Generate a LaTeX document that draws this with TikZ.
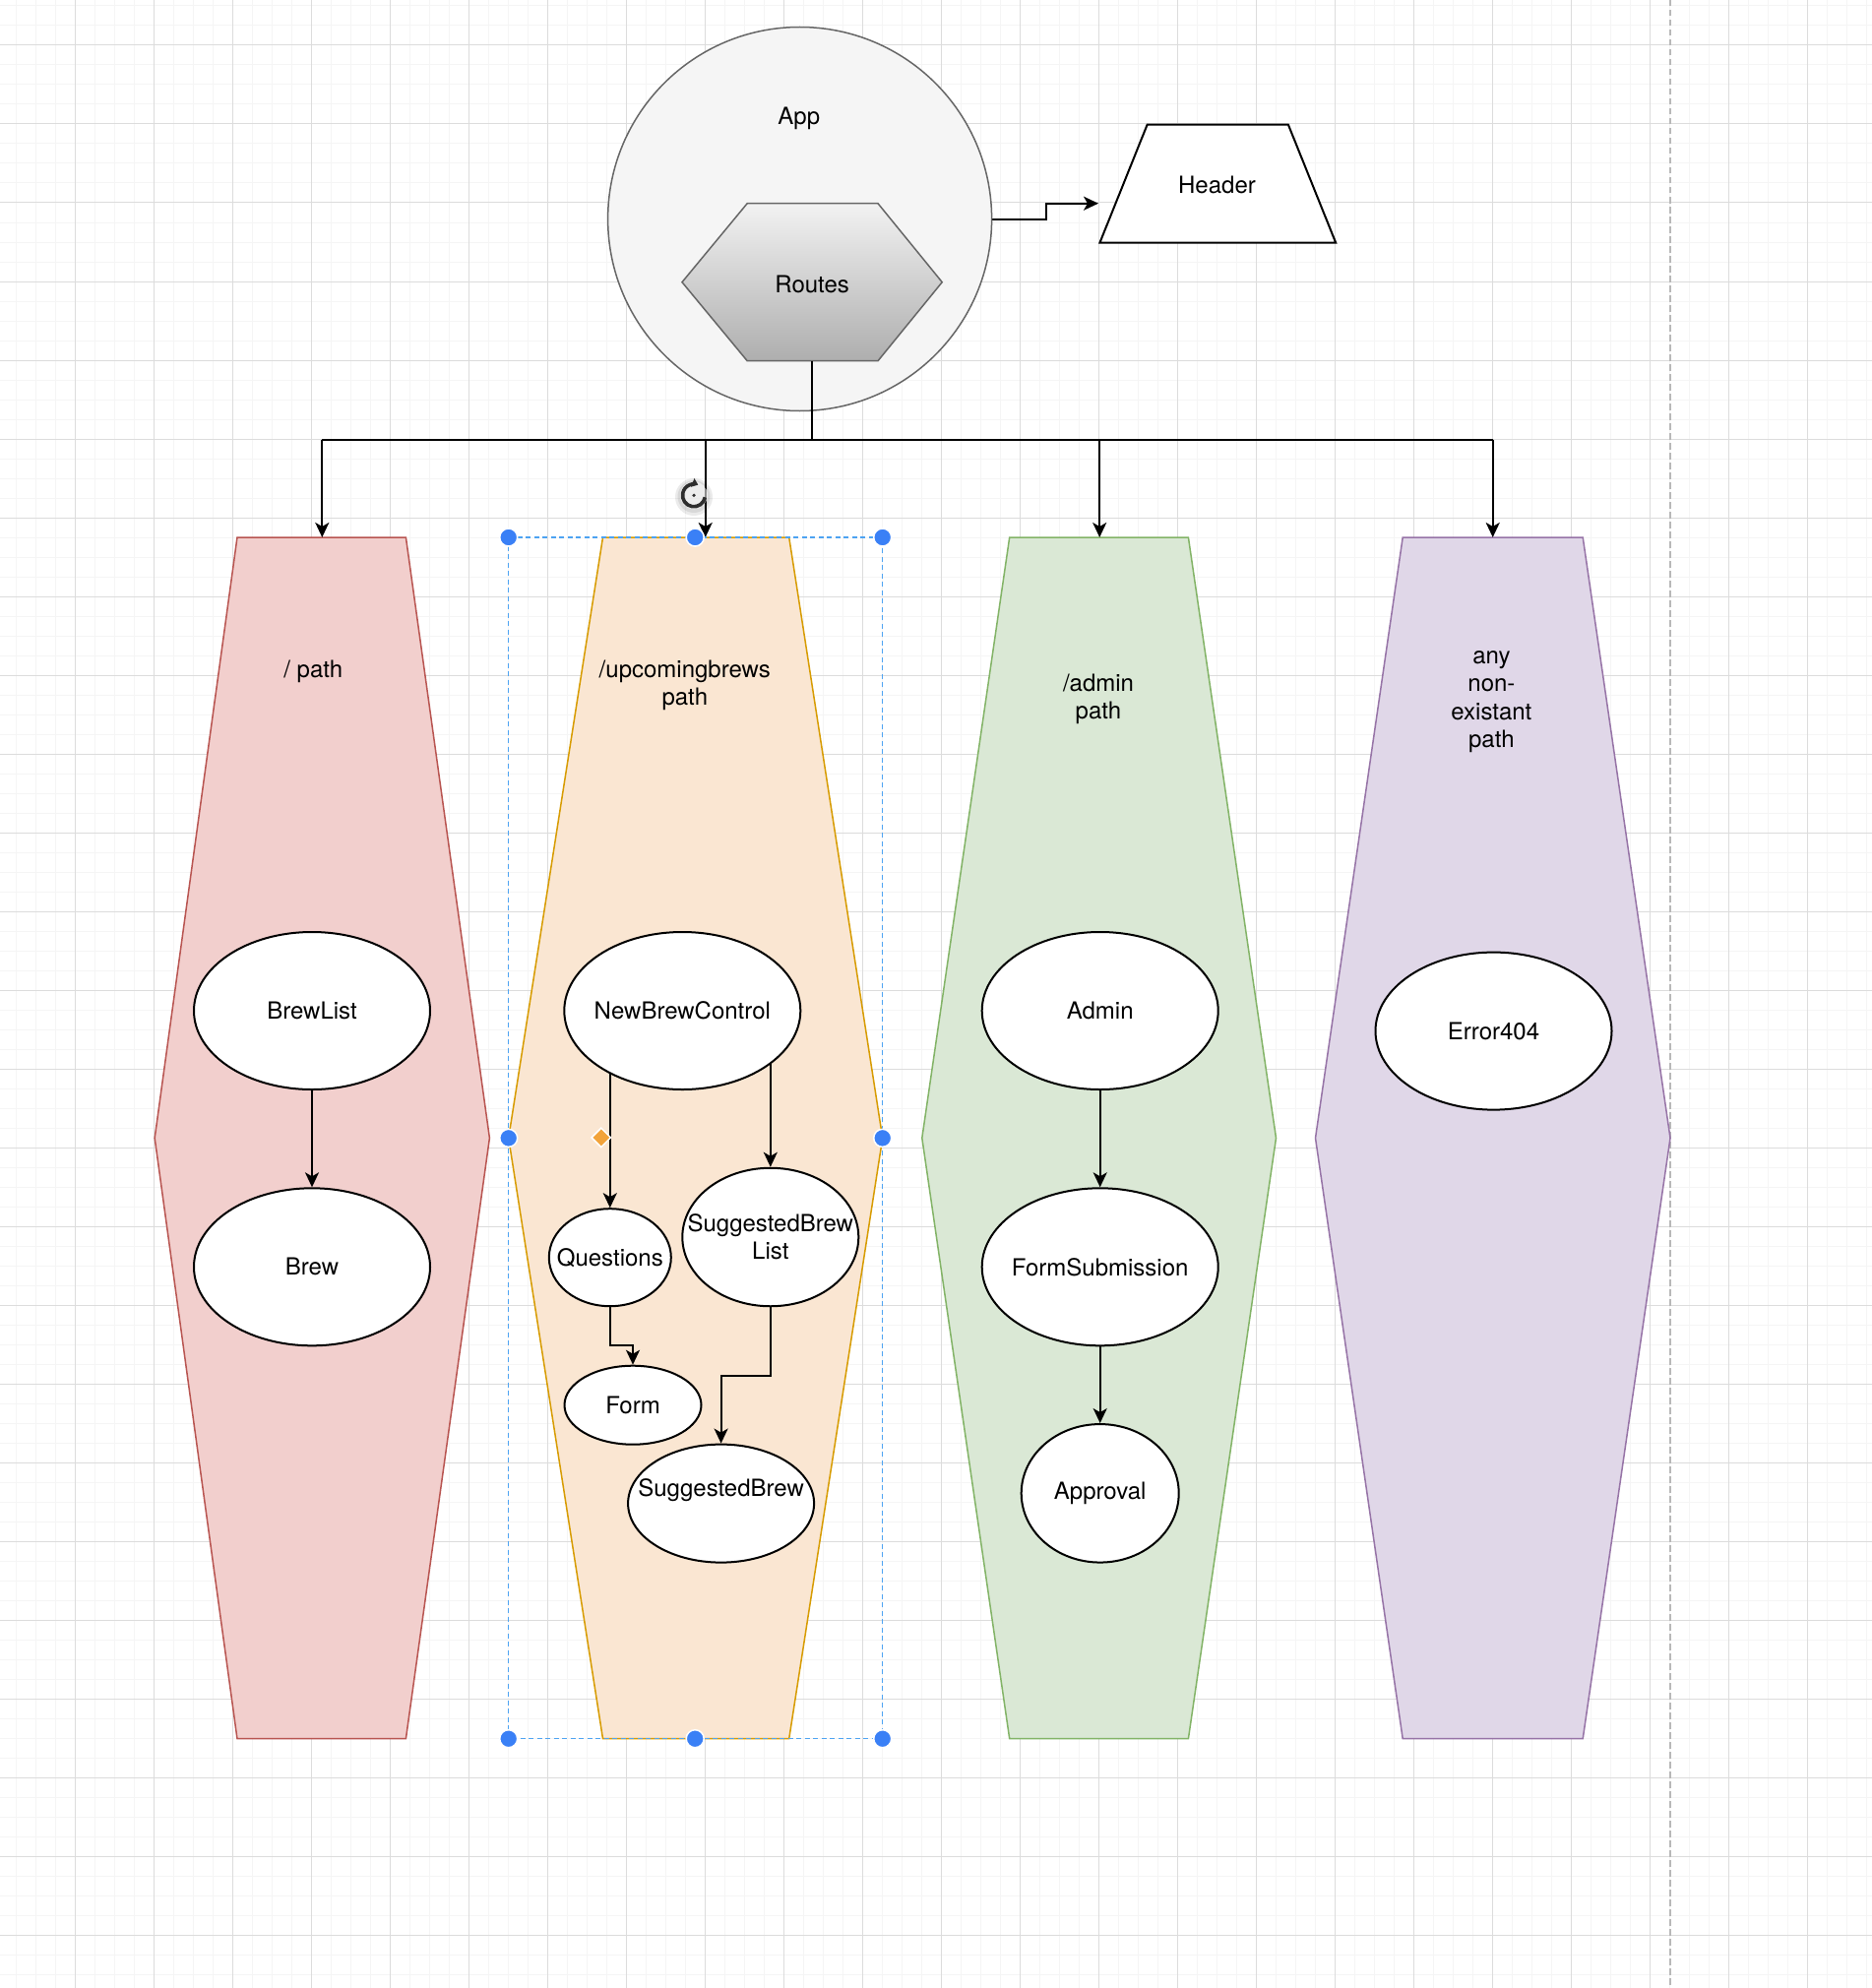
\documentclass[tikz,border=0pt]{standalone}
\usepackage{fontspec}
\setmainfont{TeX Gyre Heros}
\usetikzlibrary{shapes.geometric,arrows.meta}
\pgfdeclarelayer{bg}
\pgfdeclarelayer{hexl}
\pgfdeclarelayer{edges}
\pgfdeclarelayer{top}
\pgfsetlayers{bg,hexl,edges,main,top}
\definecolor{gridMinor}{HTML}{F5F5F5}
\definecolor{gridMajor}{HTML}{DCDCDC}
\definecolor{pageLine}{HTML}{B8B8B8}
\definecolor{redF}{HTML}{F2CFCD}
\definecolor{redS}{HTML}{B85450}
\definecolor{orgF}{HTML}{FAE6D2}
\definecolor{orgS}{HTML}{D79B00}
\definecolor{grnF}{HTML}{DAE8D5}
\definecolor{grnS}{HTML}{82B366}
\definecolor{purF}{HTML}{E0D7E8}
\definecolor{purS}{HTML}{9673A6}
\definecolor{appF}{HTML}{F5F5F5}
\definecolor{appS}{HTML}{666666}
\definecolor{routeTop}{HTML}{F2F2F2}
\definecolor{routeBot}{HTML}{AEAEAE}
\definecolor{selBlue}{HTML}{4DA3F2}
\definecolor{handleBlue}{HTML}{3A80F6}
\definecolor{diaOrange}{HTML}{F2A33A}
\definecolor{rotGray}{HTML}{2E2E2E}
\tikzset{
  lbl/.style={font=\fontsize{24pt}{28.4pt}\selectfont, align=center, inner sep=0pt},
  comp/.style={ellipse, draw=black, line width=2pt, fill=white, inner sep=0pt},
  wire/.style={draw=black, line width=2pt},
  conn/.style={wire, -{Stealth[length=15pt,width=14pt,inset=4pt]}},
  gridminor/.style={draw=gridMinor, line width=1pt},
  gridmajor/.style={draw=gridMajor, line width=1pt},
  hexshape/.style={line width=1.5pt},
  handle/.style={circle, fill=handleBlue, draw=white, line width=1.5pt, minimum size=18pt, inner sep=0pt},
}
\begin{document}
\begin{tikzpicture}[x=1pt,y=-1pt]
\useasboundingbox (0,0) rectangle (1902,2020);
% ---------- background grid ----------
\begin{pgfonlayer}{bg}
\fill[white] (0,0) rectangle (1902,2020);
\foreach \i in {0,...,94} \draw[gridminor] ({16.7+20*\i},0) -- ({16.7+20*\i},2020);
\foreach \j in {0,...,100} \draw[gridminor] (0,{6+20*\j}) -- (1902,{6+20*\j});
\foreach \i in {0,...,22} \draw[gridmajor] ({76.7+80*\i},0) -- ({76.7+80*\i},2020);
\foreach \j in {0,...,24} \draw[gridmajor] (0,{46+80*\j}) -- (1902,{46+80*\j});
\draw[draw=pageLine, line width=1.8pt, dash pattern=on 6.5pt off 3.5pt] (1696.7,0) -- (1696.7,2020);
\end{pgfonlayer}
% ---------- route hexagons ----------
\begin{pgfonlayer}{hexl}
\draw[hexshape, fill=redF, draw=redS] (241,546) -- (412.4,546) -- (497.4,1156.35) -- (412.4,1766.7) -- (241,1766.7) -- (157.2,1156.35) -- cycle;
\draw[hexshape, fill=orgF, draw=orgS] (612.5,546) -- (801.7,546) -- (896.7,1156.35) -- (801.7,1766.7) -- (612.5,1766.7) -- (516.7,1156.35) -- cycle;
\draw[hexshape, fill=grnF, draw=grnS] (1025.7,546) -- (1207.4,546) -- (1296.5,1156.35) -- (1207.4,1766.7) -- (1025.7,1766.7) -- (936.8,1156.35) -- cycle;
\draw[hexshape, fill=purF, draw=purS] (1425.2,546) -- (1608.2,546) -- (1697,1156.35) -- (1608.2,1766.7) -- (1425.2,1766.7) -- (1336.5,1156.35) -- cycle;
\end{pgfonlayer}
\node[lbl] (p1) at (318.3,682.5) {/ path};
\node[lbl] (p2) at (695.8,696.2) {/upcomingbrews\\path};
\node[lbl] (p3) at (1116,710.5) {/admin\\path};
\node[lbl] (p4) at (1515.4,713.2) {any\\non-\\existant\\path};
\coordinate (h1top) at (327.3,546);
\coordinate (h2top) at (716.7,546);
\coordinate (h3top) at (1117.2,546);
\coordinate (h4top) at (1516.7,546);
% ---------- App / Routes / Header ----------
\node[circle, minimum size=390pt, inner sep=0pt, fill=appF, draw=appS, line width=1.5pt] (app) at (812.6,222.5) {};
\node[lbl] (applbl) at (811.8,120.8) {App};
\path[draw=appS, line width=1.5pt, top color=routeTop, bottom color=routeBot]
  (759.2,206.7) -- (892,206.7) -- (957.2,286.7) -- (892,366.7) -- (759.2,366.7) -- (693,286.7) -- cycle;
\node[lbl] (routes) at (825.1,288.5) {Routes};
\coordinate (routesBot) at (825.1,366.7);
\draw[line width=2pt, fill=white] (1165.6,126.7) -- (1308.9,126.7) -- (1357.2,246.7) -- (1117.4,246.7) -- cycle;
\node[lbl] (header) at (1236.5,187.5) {Header};
\coordinate (headerIn) at (1116,206.7);
% bus from Routes
\coordinate (busL) at (327.3,446.7);
\coordinate (busR) at (1516.7,446.7);
\draw[wire] (routesBot) -- (routesBot |- busL);
\draw[wire] (busL) -- (busR);
\draw[conn] (busL) -- (h1top);
\draw[conn] (h2top |- busL) -- (h2top);
\draw[conn] (h3top |- busL) -- (h3top);
\draw[conn] (busR) -- (h4top);
% ---------- components ----------
\node[comp, minimum width=240pt, minimum height=160pt, label={[lbl]center:BrewList}] (brewlist) at (317,1027) {};
\node[comp, minimum width=240pt, minimum height=160pt, label={[lbl]center:Brew}] (brew) at (317,1287.3) {};
\node[comp, minimum width=240pt, minimum height=160pt, label={[lbl]center:NewBrewControl}] (nbc) at (693.3,1027) {};
\node[comp, minimum width=124pt, minimum height=99pt, label={[lbl]center:Questions}] (q) at (619.8,1277.7) {};
\node[comp, minimum width=179pt, minimum height=140.5pt, label={[lbl]center:SuggestedBrew\\List}] (sbl) at (782.8,1257) {};
\node[comp, minimum width=139pt, minimum height=80pt, label={[lbl]center:Form}] (form) at (643,1427.7) {};
\node[comp, minimum width=189pt, minimum height=120pt, label={[lbl, yshift=13.5pt]center:SuggestedBrew}] (sb) at (732.6,1527.6) {};
\node[comp, minimum width=240pt, minimum height=160pt, label={[lbl]center:Admin}] (admin) at (1117.7,1027) {};
\node[comp, minimum width=240pt, minimum height=160pt, label={[lbl]center:FormSubmission}] (formsub) at (1117.7,1287.3) {};
\node[comp, minimum width=160pt, minimum height=140.5pt, label={[lbl]center:Approval}] (approval) at (1117.7,1517.3) {};
\node[comp, minimum width=240pt, minimum height=160pt, label={[lbl]center:Error404}] (err) at (1517.5,1047.6) {};
% ---------- connectors ----------
\begin{pgfonlayer}{edges}
\draw[conn] (app.east) -- ++(55,0) |- (headerIn);
\draw[conn] (nbc.center -| q.north) -- (q.north);
\draw[conn] (nbc.center -| sbl.north) -- (sbl.north);
\draw[conn] (q.south) -- ++(0,38.7) -| (form.north);
\draw[conn] (sbl.south) -- ++(0,69.5) -| (sb.north);
\end{pgfonlayer}
\draw[conn] (brewlist) -- (brew);
\draw[conn] (admin) -- (formsub);
\draw[conn] (formsub) -- (approval);
% ---------- selection overlay ----------
\begin{pgfonlayer}{top}
\draw[draw=selBlue, line width=1.5pt, dash pattern=on 5pt off 3.5pt] (516.7,546) rectangle (896.7,1766.7);
\node[handle] (hA) at (516.7,546) {};
\node[handle] (hB) at (706.2,546) {};
\node[handle] (hC) at (896.7,546) {};
\node[handle] (hD) at (516.7,1156.35) {};
\node[handle] (hE) at (896.7,1156.35) {};
\node[handle] (hF) at (516.7,1766.7) {};
\node[handle] (hG) at (706.2,1766.7) {};
\node[handle] (hH) at (896.7,1766.7) {};
\node[diamond, fill=diaOrange, draw=white, line width=1.5pt, minimum size=20pt, inner sep=0pt] (ctrl) at (610.8,1155.9) {};
% rotate icon
\fill[black, opacity=0.08] (705,505) circle (19pt);
\fill[black, opacity=0.08] (705,504.5) circle (16.5pt);
\fill[white, opacity=0.55] (705,503.3) circle (14pt);
\draw[rotGray, line width=3.6pt, -{Triangle[length=6pt,width=9pt]}] (705,503.3) ++(-10:11.5pt) arc (-10:-292:11.5pt);
\fill[rotGray] (705,503.3) circle (1.8pt);
\end{pgfonlayer}
\end{tikzpicture}
\end{document}
